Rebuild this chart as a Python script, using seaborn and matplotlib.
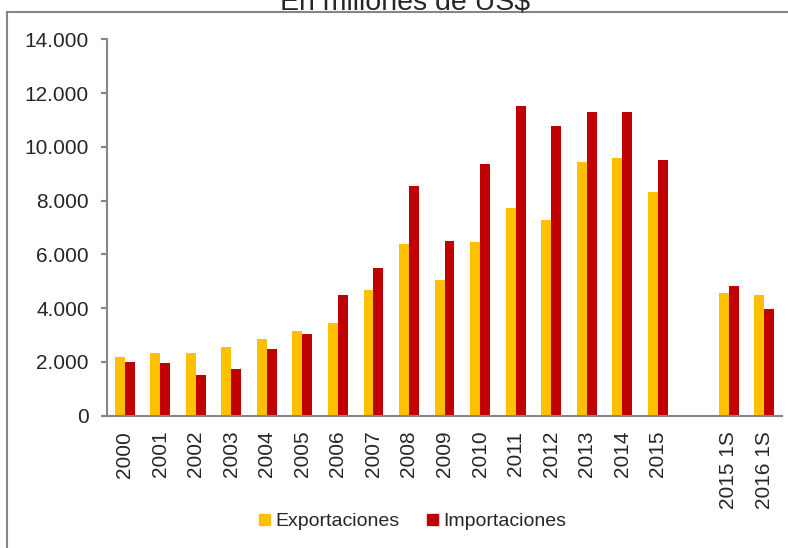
import numpy as np
import pandas as pd
import matplotlib
matplotlib.use("Agg")
import matplotlib.pyplot as plt
import matplotlib.patches as mpatches
from matplotlib.ticker import FuncFormatter
import seaborn as sns

# datos (millones de US$)
categorias = ["2000", "2001", "2002", "2003", "2004", "2005", "2006", "2007",
              "2008", "2009", "2010", "2011", "2012", "2013", "2014", "2015",
              " ", "2015 1S", "2016 1S"]
exportaciones = [2170, 2320, 2320, 2540, 2840, 3140, 3430, 4690,
                 6400, 5050, 6460, 7730, 7280, 9440, 9590, 8330,
                 np.nan, 4550, 4470]
importaciones = [2010, 1950, 1500, 1720, 2470, 3050, 4470, 5510,
                 8540, 6480, 9360, 11530, 10780, 11290, 11290, 9510,
                 np.nan, 4840, 3950]
series = ["Exportaciones", "Importaciones"]
colores = ["#FFC000", "#C00000"]

df = pd.DataFrame({"Año": categorias, series[0]: exportaciones, series[1]: importaciones})
df = df.melt(id_vars="Año", var_name="Serie", value_name="Valor")

sns.set_style("white")
plt.rcParams["font.family"] = ["Liberation Sans", "DejaVu Sans"]
gris = "#868686"

fig = plt.figure(figsize=(7.88, 5.48), dpi=100)
ax = fig.add_axes([107 / 788, 1 - 415.5 / 548, 675 / 788, 376 / 548])

sns.barplot(data=df, x="Año", y="Valor", hue="Serie", order=categorias,
            hue_order=series, palette=colores, width=0.56, ax=ax,
            saturation=1, errorbar=None, linewidth=0)
ax.legend_.remove()

ax.set_ylim(0, 14000)
ax.set_yticks(np.arange(0, 14001, 2000))
ax.yaxis.set_major_formatter(FuncFormatter(lambda v, p: f"{v:,.0f}".replace(",", ".")))
ax.set_xlim(-0.5, len(categorias) - 0.5)
ax.set_xlabel("")
ax.set_ylabel("")

ax.set_xticks(np.arange(-0.5, len(categorias), 1), minor=True)
ax.tick_params(axis="x", which="major", length=0, pad=11, labelsize=15,
               labelrotation=90)
ax.tick_params(axis="x", which="minor", length=4, width=1.5, color=gris,
               direction="out")
ax.tick_params(axis="y", length=4, width=1.5, color=gris, pad=9, labelsize=15,
               direction="out", left=True)

for lado in ["top", "right"]:
    ax.spines[lado].set_visible(False)
for lado in ["left", "bottom"]:
    ax.spines[lado].set_color(gris)
    ax.spines[lado].set_linewidth(1.5)

# marco del gráfico (sale por la derecha y por abajo)
marco = mpatches.Rectangle((7 / 788, -0.2), 1.0, 1.2 - 12 / 548,
                           transform=fig.transFigure, fill=False,
                           edgecolor=gris, linewidth=1.5, clip_on=False)
fig.patches.append(marco)

fig.text(405 / 788, 1 - 10 / 548, "En millones de US$", ha="center",
         va="baseline", fontsize=20.5)

handles = [mpatches.Patch(color=c, label=s) for c, s in zip(colores, series)]
fig.legend(handles=handles, loc="center", bbox_to_anchor=(413 / 788, 1 - 522 / 548),
           ncol=2, frameon=False, fontsize=14, handlelength=0.55,
           handleheight=0.55, handletextpad=0.3, columnspacing=1.4)

fig.savefig("out.png", dpi=100)
